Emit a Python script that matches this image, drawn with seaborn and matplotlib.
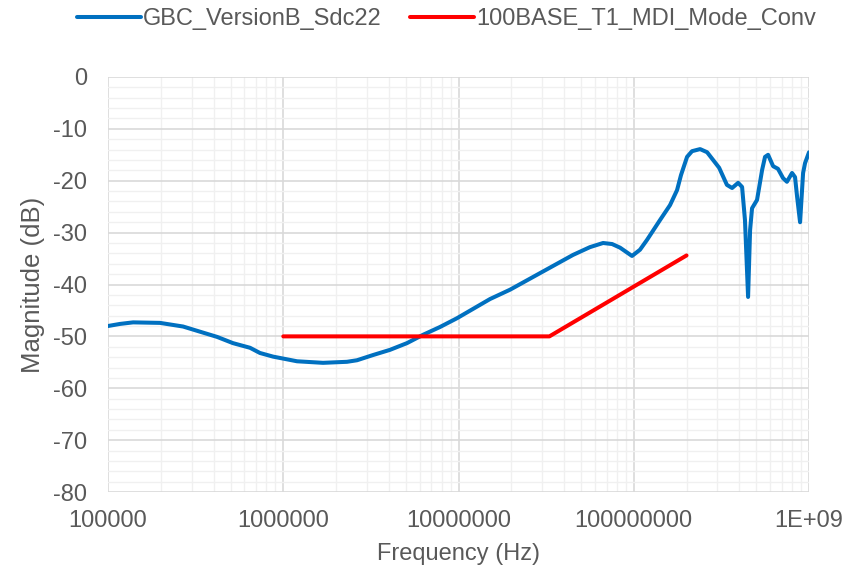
import numpy as np
import pandas as pd
import seaborn as sns
import matplotlib
matplotlib.use("Agg")
from matplotlib import pyplot as plt
from matplotlib.ticker import LogLocator, MultipleLocator, NullFormatter

# measured curve (Hz, dB)
meas_freq = [1.0e5, 1.17e5, 1.39e5, 1.98e5, 2.68e5, 3.35e5, 4.19e5, 5.16e5, 6.46e5,
             7.36e5, 8.74e5, 1.198e6, 1.686e6, 2.31e6, 2.635e6, 3.25e6, 4.06e6,
             5.08e6, 6.27e6, 7.83e6, 9.8e6, 1.513e7, 1.968e7, 2.92e7, 4.50e7,
             5.62e7, 6.68e7, 7.52e7, 8.35e7, 9.77e7, 1.085e8, 1.19e8, 1.41e8,
             1.61e8, 1.766e8, 1.86e8, 2.014e8, 2.15e8, 2.39e8, 2.62e8, 3.07e8,
             3.40e8, 3.64e8, 3.94e8, 4.15e8, 4.31e8, 4.49e8, 4.61e8, 4.73e8,
             5.05e8, 5.40e8, 5.61e8, 5.84e8, 6.24e8, 6.65e8, 7.11e8, 7.48e8,
             8.0e8, 8.32e8, 8.55e8, 8.89e8, 9.25e8, 9.49e8, 1.0e9]
meas_db = [-48.0, -47.6, -47.3, -47.4, -48.1, -49.1, -50.1, -51.3, -52.2,
           -53.2, -53.9, -54.8, -55.1, -54.9, -54.6, -53.6, -52.6,
           -51.3, -49.7, -48.2, -46.5, -42.8, -41.0, -37.8, -34.3,
           -32.8, -32.0, -32.2, -32.9, -34.5, -33.3, -31.4, -27.6,
           -24.7, -21.8, -18.9, -15.4, -14.3, -13.9, -14.5, -17.5,
           -20.8, -21.4, -20.4, -21.2, -27.6, -42.4, -29.5, -25.3,
           -23.7, -17.9, -15.4, -15.0, -17.2, -17.7, -19.5, -20.2,
           -18.5, -19.3, -23.1, -28.0, -18.5, -16.6, -14.5]

# limit line
limit_freq = [1.0e6, 3.3e7, 2.0e8]
limit_db = [-50.0, -50.0, -34.4]

x_ticks = [1e5, 1e6, 1e7, 1e8, 1e9]
x_labels = ["100000", "1000000", "10000000", "100000000", "1E+09"]

sns.set_style("white")
plt.rcParams['font.family'] = ['Liberation Sans', 'DejaVu Sans']
plt.rcParams['axes.unicode_minus'] = False
grey = "#595959"

df_meas = pd.DataFrame({"f": meas_freq, "dB": meas_db})
df_lim = pd.DataFrame({"f": limit_freq, "dB": limit_db})

fig = plt.figure(figsize=(8.46, 5.69), dpi=100)
ax = fig.add_axes([0.1277, 0.1353, 0.8286, 0.7294])

sns.lineplot(data=df_meas, x="f", y="dB", ax=ax, color="#0070C0", linewidth=2.9,
             label="GBC_VersionB_Sdc22", legend=False)
sns.lineplot(data=df_lim, x="f", y="dB", ax=ax, color="#FF0000", linewidth=2.9,
             label="100BASE_T1_MDI_Mode_Conv", legend=False)

ax.set_xscale("log")
ax.set_xlim(1e5, 1e9)
ax.set_ylim(-80, 0)
ax.set_xticks(x_ticks, x_labels)
ax.xaxis.set_minor_locator(LogLocator(base=10, subs=np.arange(2, 10)))
ax.xaxis.set_minor_formatter(NullFormatter())
ax.yaxis.set_major_locator(MultipleLocator(10))
ax.yaxis.set_minor_locator(MultipleLocator(2))
ax.grid(which="major", color="#D9D9D9", linewidth=1.2)
ax.grid(which="minor", color="#F0F0F0", linewidth=1.0)
ax.set_axisbelow(True)
for s in ax.spines.values():
    s.set_visible(False)
ax.tick_params(which="both", length=0, labelsize=17, colors=grey)
ax.tick_params(axis="x", pad=13)
ax.tick_params(axis="y", pad=15)
ax.set_xlabel("Frequency (Hz)", fontsize=17, color=grey, labelpad=8)
ax.set_ylabel("Magnitude (dB)", fontsize=18.5, color=grey, labelpad=6)

h, l = ax.get_legend_handles_labels()
fig.legend(h, l, loc="center", bbox_to_anchor=(0.528, 0.967), ncol=2, frameon=False,
           fontsize=17, labelcolor=grey, handlelength=2.7, handletextpad=0.1,
           columnspacing=1.2)

plt.savefig("out.png", dpi=100)
